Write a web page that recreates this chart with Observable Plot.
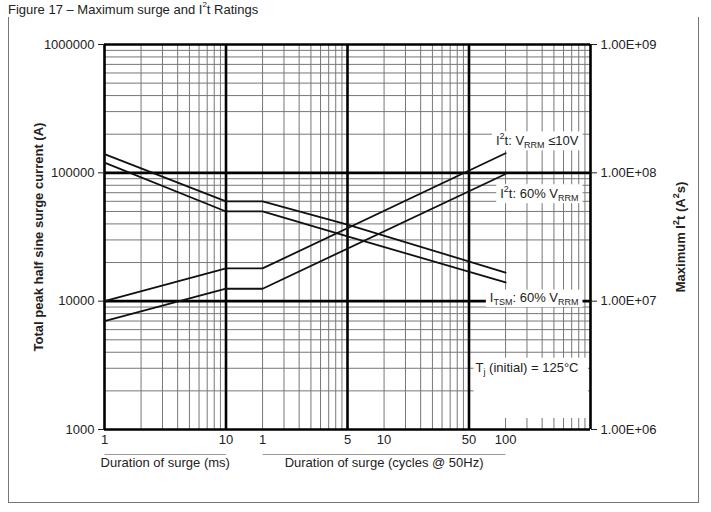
<!DOCTYPE html>
<html><head><meta charset="utf-8">
<script src="https://cdn.jsdelivr.net/npm/d3@7"></script>
<script src="https://cdn.jsdelivr.net/npm/@observablehq/plot@0.6"></script>
<style>
body{margin:0;background:#fff;font-family:"Liberation Sans",Arial,sans-serif;}
#wrap{position:relative;width:711px;height:512px;overflow:hidden;background:#fff}
#title{position:absolute;left:8px;top:2px;font-size:13px;color:#222;white-space:nowrap;line-height:16px}
#title sup{font-size:8px;vertical-align:7px;line-height:0}
#frame{position:absolute;left:8px;top:17px;width:689px;height:485px;border:1px solid #777;border-top:none}
#chart{position:absolute;left:0;top:20px}
</style></head><body>
<div id="wrap"><div id="frame"></div><div id="title">Figure 17 – Maximum surge and I<sup>2</sup>t Ratings</div><div id="chart"></div></div>
<script>
// ---- axis ticks ----
const yTicks = [1000, 10000, 100000, 1000000];
const yTickLabels = ["1000", "10000", "100000", "1000000"];
const y2TickLabels = ["1.00E+06", "1.00E+07", "1.00E+08", "1.00E+09"];
const xTicksMs = [1, 3, 5, 10, 20, 100, 200, 1000, 2000];
const xTickLabels = ["1", "3", "5", "10", "1", "5", "10", "50", "100"];
const xGroupLabels = ["Duration of surge (ms)", "Duration of surge (cycles @ 50Hz)"];
const xGroupFromMs = [1, 20];
const xGroupToMs = [10, 2000];

// ---- series (duration in ms) ----
const itsmMs = [1, 10, 20, 100, 2000];
const itsmLowV = [140000, 60000, 60000, 39500, 16700];   // ITSM, VRRM <= 10V (A)
const itsm60 = [120000, 50000, 50000, 32000, 14000];     // ITSM, 60% VRRM (A)
const i2tMs = [1, 10, 20, 2000];
const i2tLowV = [1.0e7, 1.8e7, 1.8e7, 1.42e8];           // I2t, VRRM <= 10V (A2s)
const i2t60 = [7.0e6, 1.25e7, 1.25e7, 9.8e7];            // I2t, 60% VRRM (A2s)

// ---- annotations ----
const labels = ["I^{2}t: V_{RRM} ≤10V", "I^{2}t: 60% V_{RRM}", "I_{TSM}: 60% V_{RRM}", "T_{j} (initial) = 125°C"];
const labelY = [178000, 69000, 10700, 3040];
const leftTitle = "Total peak half sine surge current (A)";
const rightTitle = "Maximum I^{2}t (A^{2}s)";

// right axis (A2s) = left axis (A) x 1000
const rows = [
  ...itsmMs.map((m, i) => ({s: "itsmLowV", ms: m, v: itsmLowV[i]})),
  ...itsmMs.map((m, i) => ({s: "itsm60", ms: m, v: itsm60[i]})),
  ...i2tMs.map((m, i) => ({s: "i2tLowV", ms: m, v: i2tLowV[i] / 1000})),
  ...i2tMs.map((m, i) => ({s: "i2t60", ms: m, v: i2t60[i] / 1000}))
];

const decadesX = [1, 10, 100, 1000, 10000];
const minorX = [1, 10, 100, 1000].flatMap(d => [2,3,4,5,6,7,8,9].map(k => k * d));
const decadesY = [1000, 10000, 100000, 1000000];
const minorY = [1000, 10000, 100000].flatMap(d => [2,3,4,5,6,7,8,9].map(k => k * d));

const groups = xGroupLabels.map((t, i) => ({t, a: xGroupFromMs[i], b: xGroupToMs[i], m: Math.sqrt(xGroupFromMs[i] * xGroupToMs[i])}));

const plot = Plot.plot({
  width: 711, height: 492,
  marginLeft: 104, marginRight: 121, marginTop: 24, marginBottom: 83,
  style: {fontFamily: "'Liberation Sans', Arial, sans-serif", fontSize: "13px", color: "#222", background: "transparent"},
  x: {type: "log", domain: [1, 10000]},
  y: {type: "log", domain: [1000, 1000000]},
  marks: [
    Plot.ruleX(minorX, {stroke: "#777", strokeWidth: 1}),
    Plot.ruleY(minorY, {stroke: "#777", strokeWidth: 1}),
    Plot.ruleX(decadesX, {stroke: "#000", strokeWidth: 2.6}),
    Plot.ruleY(decadesY, {stroke: "#000", strokeWidth: 2.6}),
    Plot.line(rows, {x: "ms", y: "v", z: "s", stroke: "#111", strokeWidth: 1.8}),
    Plot.text(labels.map((t, i) => ({t, y: labelY[i]})), {y: "y", text: "t", frameAnchor: "right", textAnchor: "end", dx: -12, fill: "#222", fontSize: 13, className: "annot"}),
    Plot.text([leftTitle], {frameAnchor: "left", textAnchor: "middle", dx: -66, rotate: -90, fontWeight: "bold", fontSize: 13, fill: "#222", className: "rich"}),
    Plot.text([rightTitle], {frameAnchor: "right", textAnchor: "middle", dx: 90, rotate: -90, fontWeight: "bold", fontSize: 13, fill: "#222", className: "rich"}),
    Plot.link(groups, {x1: "a", x2: "b", y1: () => 1000, y2: () => 1000, dy: 25, stroke: "#999", strokeWidth: 1}),
    Plot.text(groups, {x: "m", text: "t", frameAnchor: "bottom", dy: 37, fill: "#222", fontSize: 13}),
    Plot.axisX({ticks: xTicksMs, tickFormat: d => xTickLabels[xTicksMs.indexOf(d)], tickSize: 0, tickPadding: 5, label: null, fontSize: 13}),
    Plot.axisY({anchor: "left", ticks: yTicks, tickFormat: d => yTickLabels[yTicks.indexOf(d)], tickSize: 6, tickPadding: 4, label: null, fontSize: 13}),
    Plot.axisY({anchor: "right", ticks: yTicks, tickFormat: d => y2TickLabels[yTicks.indexOf(d)], tickSize: 6, tickPadding: 4, label: null, fontSize: 13})
  ]
});
document.getElementById("chart").appendChild(plot);

const NS = "http://www.w3.org/2000/svg";
function richify(el) {
  const s = el.textContent;
  const re = /([_^])\{([^}]*)\}/g;
  let last = 0, m; const parts = [];
  while ((m = re.exec(s))) {
    if (m.index > last) parts.push({t: s.slice(last, m.index), k: ""});
    parts.push({t: m[2], k: m[1]});
    last = re.lastIndex;
  }
  if (last < s.length) parts.push({t: s.slice(last), k: ""});
  el.textContent = "";
  let shift = 0;
  for (const p of parts) {
    const ts = document.createElementNS(NS, "tspan");
    const target = p.k === "_" ? 3.5 : p.k === "^" ? -5.5 : 0;
    if (target !== shift) { ts.setAttribute("dy", target - shift); shift = target; }
    if (p.k) ts.setAttribute("font-size", "9");
    ts.textContent = p.t;
    el.appendChild(ts);
  }
}
const svg = d3.select(plot);
svg.selectAll("g.rich text").each(function() { richify(this); });
const xr = plot.scale("x").range, yr = plot.scale("y").range;
const frameRight = Math.max(...xr), frameBottom = Math.max(...yr);
const annotG = svg.select("g.annot").node();
const svgBox = plot.getBoundingClientRect();
svg.selectAll("g.annot text").each(function(d, i) {
  richify(this);
  const c = this.getBoundingClientRect();
  const bx = c.left - svgBox.left, by = c.top - svgBox.top;
  const r = document.createElementNS(NS, "rect");
  let x0 = bx - 4, y0 = by, w = c.width + 8, h = c.height;
  if (i === 3) { x0 = bx - 2; y0 = by - 2; w = frameRight - 2 - x0; h = frameBottom - 11 - y0; }
  r.setAttribute("x", x0); r.setAttribute("y", y0); r.setAttribute("width", w); r.setAttribute("height", h);
  r.setAttribute("fill", "#fff");
  annotG.parentNode.insertBefore(r, annotG);
});
</script>
</body></html>
